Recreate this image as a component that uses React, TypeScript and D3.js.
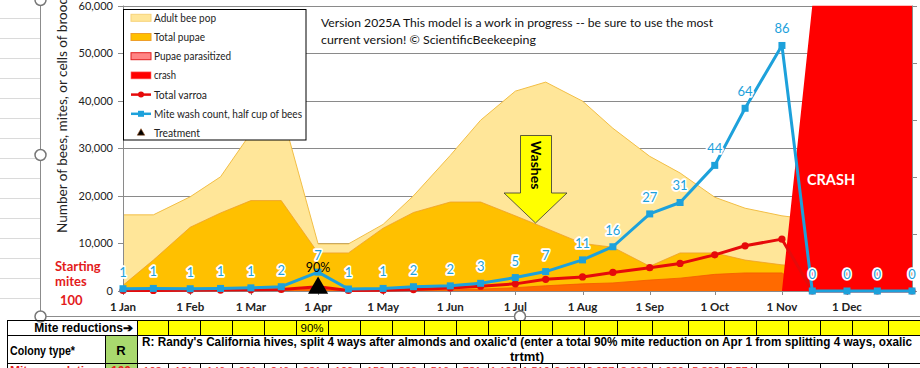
import React, { useEffect, useRef } from 'react';
import * as d3 from 'd3';

// sample dates (1st and 15th of each month, last point Dec 31)
const sampleDates = [
  '2025-01-01', '2025-01-15', '2025-02-01', '2025-02-15', '2025-03-01', '2025-03-15',
  '2025-04-01', '2025-04-15', '2025-05-01', '2025-05-15', '2025-06-01', '2025-06-15',
  '2025-07-01', '2025-07-15', '2025-08-01', '2025-08-15', '2025-09-01', '2025-09-15',
  '2025-10-01', '2025-10-15', '2025-11-01', '2025-11-15', '2025-12-01', '2025-12-15',
  '2025-12-31'
];
const adultBees = [16000, 16000, 19800, 24000, 33200, 38000, 9900, 9900, 14000, 20000, 28500, 35900,
  42000, 43900, 39900, 34200, 28300, 24800, 19700, 17400, 15800, 15000, 15000, 15000, 17500];
const totalPupae = [1200, 6500, 13400, 16400, 19000, 19000, 8000, 8000, 13200, 16500, 18700, 18700,
  15800, 13200, 10000, 9200, 5200, 8000, 8000, 6500, 5500, 5000, 4000, 3000, 3000];
const pupaeParasitized = [30, 40, 60, 80, 110, 150, 400, 30, 60, 100, 250, 400,
  700, 1100, 1500, 1700, 2300, 2700, 3500, 3800, 3800, 0, 0, 0, 0];
const crash = [0, 0, 0, 0, 0, 0, 0, 0, 0, 0, 0, 0, 0, 0, 0, 0, 0, 0, 0, 0, 0, 60000, 60000, 60000, 60000];
const totalVarroa = [100, 120, 150, 190, 250, 330, 900, 100, 150, 300, 650, 1000,
  1500, 2450, 2950, 3900, 4900, 5800, 7600, 9500, 10900, 0, 0, 0, 0];
const washCount = [0.8, 0.9, 0.8, 0.9, 1.1, 1.5, 6.6, 0.7, 0.9, 1.5, 1.8, 2.7,
  4.7, 6.8, 10.9, 15.5, 27, 31, 44, 64, 86, 0, 0, 0, 0];

const treatmentDate = '2025-04-01';
const treatmentLabel = '90%';

const yTicks = [0, 10000, 20000, 30000, 40000, 50000, 60000];
const y2Ticks = [0, 20, 40, 60, 80, 100];
const monthTicks = ['2025-01-01', '2025-02-01', '2025-03-01', '2025-04-01', '2025-05-01', '2025-06-01',
  '2025-07-01', '2025-08-01', '2025-09-01', '2025-10-01', '2025-11-01', '2025-12-01'];

const legendNames = ['Adult bee pop', 'Total pupae', 'Pupae parasitized', 'crash', 'Total varroa',
  'Mite wash count, half cup of bees', 'Treatment'];

const versionLines = [
  'Version 2025A This model is a work in progress -- be sure to use the most',
  'current version!  \u00A9 ScientificBeekeeping'
];

// spreadsheet rows under the chart
const miteReductions = ['', '', '', '', '', '90%', '', '', '', '', '', '', '', '', '', '', '', '', '', '', '', '', '', ''];
const colonyType = 'R';
const colonyText = [
  "R: Randy's California hives, split 4 ways after almonds and oxalic'd (enter a total 90% mite reduction on Apr 1 from splitting 4 ways, oxalic",
  'trtmt)'
];
const startingMites = 100;
const mitePopRow = ['103', '131', '146', '201', '246', '331', '100', '150', '300', '516', '781', '1,139',
  '1,510', '2,452', '2,957', '3,903', '4,930', '5,802', '7,574', '', '', '', '', ''];

const FONT = 'Lato, "Noto Sans", sans-serif';
const ARIAL = '"Liberation Sans", Arial, sans-serif';

export default function App() {
  const ref = useRef<SVGSVGElement>(null);

  useEffect(() => {
    const svg = d3.select(ref.current);
    svg.selectAll('*').remove();

    const W = 920, H = 368;
    const plot = { left: 123, right: 912, top: 5.5, bottom: 291 };

    const parse = d3.timeParse('%Y-%m-%d');
    const dates = sampleDates.map(d => parse(d) as Date);

    const x = d3.scaleTime()
      .domain([dates[0], dates[dates.length - 1]])
      .range([plot.left, plot.right]);
    const y = d3.scaleLinear().domain([0, 60000]).range([plot.bottom, plot.top]);
    const y2 = d3.scaleLinear().domain([0, 100]).range([plot.bottom, plot.top]);

    svg.append('rect').attr('width', W).attr('height', H).attr('fill', '#fff');

    // spreadsheet gridlines left of the chart object
    const sheet = svg.append('g');
    d3.range(18, 317, 20).forEach(yy => {
      sheet.append('line').attr('x1', 0).attr('x2', 40).attr('y1', yy + 0.5).attr('y2', yy + 0.5)
        .attr('stroke', '#dadada');
    });

    // chart object background
    svg.append('rect').attr('x', 40).attr('y', -2).attr('width', W - 40).attr('height', 319).attr('fill', '#fff');

    const defs = svg.append('defs');
    defs.append('clipPath').attr('id', 'plotclip').append('rect')
      .attr('x', plot.left).attr('y', plot.top)
      .attr('width', plot.right - plot.left).attr('height', plot.bottom - plot.top);

    // gridlines
    svg.append('g').selectAll('line').data(yTicks.slice(1)).join('line')
      .attr('x1', plot.left).attr('x2', plot.right)
      .attr('y1', d => Math.round(y(d)) + 0.5).attr('y2', d => Math.round(y(d)) + 0.5)
      .attr('stroke', '#8a8a8a').attr('stroke-width', 1);

    const g = svg.append('g').attr('clip-path', 'url(#plotclip)');

    const area = (vals: number[]) => d3.area<number>()
      .x((_, i) => x(dates[i]))
      .y0(y(0))
      .y1(d => y(d))(vals);
    const topLine = (vals: number[]) => d3.line<number>()
      .x((_, i) => x(dates[i]))
      .y(d => y(d))(vals);

    g.append('path').attr('d', area(adultBees)).attr('fill', '#FFE699');
    g.append('path').attr('d', topLine(adultBees)).attr('fill', 'none').attr('stroke', '#F2BE45').attr('stroke-width', 1);
    g.append('path').attr('d', area(totalPupae)).attr('fill', '#FFC000');
    g.append('path').attr('d', topLine(totalPupae)).attr('fill', 'none').attr('stroke', '#EE9F2A').attr('stroke-width', 0.8);
    g.append('path').attr('d', area(pupaeParasitized)).attr('fill', '#FF6A00');
    g.append('path').attr('d', topLine(pupaeParasitized)).attr('fill', 'none').attr('stroke', '#F25A00').attr('stroke-width', 0.8);
    g.append('path').attr('d', area(crash)).attr('fill', '#FF0000');

    // axes lines and tick marks
    const axisColor = '#8a8a8a';
    svg.append('line').attr('x1', plot.left + 0.5).attr('x2', plot.left + 0.5)
      .attr('y1', plot.top).attr('y2', plot.bottom).attr('stroke', axisColor);
    svg.append('line').attr('x1', plot.right + 0.5).attr('x2', plot.right + 0.5)
      .attr('y1', plot.top).attr('y2', plot.bottom).attr('stroke', axisColor);
    svg.append('g').selectAll('line').data(yTicks).join('line')
      .attr('x1', plot.left - 5).attr('x2', plot.left)
      .attr('y1', d => Math.round(y(d)) + 0.5).attr('y2', d => Math.round(y(d)) + 0.5)
      .attr('stroke', axisColor);
    svg.append('g').selectAll('line').data(y2Ticks).join('line')
      .attr('x1', plot.right).attr('x2', plot.right + 5)
      .attr('y1', d => Math.round(y2(d)) + 0.5).attr('y2', d => Math.round(y2(d)) + 0.5)
      .attr('stroke', axisColor);

    const xAxisG = svg.append('g').attr('transform', `translate(0, ${plot.bottom})`);
    xAxisG.append('line').attr('x1', plot.left).attr('x2', plot.right).attr('y1', 0.5).attr('y2', 0.5)
      .attr('stroke', axisColor);
    xAxisG.selectAll('line.tk').data(monthTicks).join('line').attr('class', 'tk')
      .attr('x1', d => Math.round(x(parse(d) as Date)) + 0.5).attr('x2', d => Math.round(x(parse(d) as Date)) + 0.5)
      .attr('y1', 0).attr('y2', 4).attr('stroke', axisColor);
    const fmt = d3.timeFormat('%-d %b');
    xAxisG.selectAll('text').data(monthTicks).join('text')
      .attr('x', d => x(parse(d) as Date)).attr('y', 20)
      .attr('text-anchor', 'middle')
      .attr('font-family', FONT).attr('font-weight', 700).attr('font-size', 11.5).attr('fill', '#222')
      .text(d => fmt(parse(d) as Date));

    // y tick labels
    svg.append('g').selectAll('text').data(yTicks).join('text')
      .attr('x', 113).attr('y', d => y(d) + 4)
      .attr('text-anchor', 'end')
      .attr('font-family', FONT).attr('font-size', 11).attr('fill', '#222')
      .text(d => d3.format(',')(d));

    // y axis title
    svg.append('text')
      .attr('transform', 'translate(67, 233) rotate(-90)')
      .attr('font-family', FONT).attr('font-size', 13.5).attr('fill', '#222')
      .attr('textLength', 236).attr('lengthAdjust', 'spacingAndGlyphs')
      .text('Number of bees, mites, or cells of brood');

    // total varroa line
    const varroaColor = '#E60A0A';
    const vLine = d3.line<number>().x((_, i) => x(dates[i])).y(d => y(d));
    svg.append('path').attr('d', vLine(totalVarroa)).attr('fill', 'none')
      .attr('stroke', varroaColor).attr('stroke-width', 3).attr('stroke-linejoin', 'round');
    svg.append('g').selectAll('circle').data(totalVarroa).join('circle')
      .attr('cx', (_, i) => x(dates[i])).attr('cy', d => y(d)).attr('r', 3.6)
      .attr('fill', varroaColor);

    // mite wash line
    const washColor = '#1DA1DB';
    const wLine = d3.line<number>().x((_, i) => x(dates[i])).y(d => y2(d));
    svg.append('path').attr('d', wLine(washCount)).attr('fill', 'none')
      .attr('stroke', washColor).attr('stroke-width', 3).attr('stroke-linejoin', 'round');
    svg.append('g').selectAll('rect').data(washCount).join('rect')
      .attr('x', (_, i) => x(dates[i]) - 3.5).attr('y', d => y2(d) - 3.5)
      .attr('width', 7).attr('height', 7).attr('fill', washColor);

    // treatment marker
    const tx = x(parse(treatmentDate) as Date);
    svg.append('path')
      .attr('d', d3.symbol(d3.symbolTriangle, 175)())
      .attr('transform', `translate(${tx}, ${y(0) - 3})`)
      .attr('fill', '#000');

    // wash count labels
    svg.append('g').selectAll('text').data(washCount).join('text')
      .attr('x', (_, i) => x(dates[i])).attr('y', d => y2(d) - 12)
      .attr('text-anchor', 'middle')
      .attr('font-family', FONT).attr('font-size', 13).attr('fill', washColor)
      .attr('stroke', '#fff').attr('stroke-width', 3.5).attr('stroke-linejoin', 'round')
      .attr('paint-order', 'stroke')
      .text(d => String(Math.round(d)));

    svg.append('text').attr('x', tx).attr('y', 272).attr('text-anchor', 'middle')
      .attr('font-family', FONT).attr('font-size', 12.5).attr('fill', '#000')
      .text(treatmentLabel);

    // CRASH label
    svg.append('text').attr('x', 831).attr('y', 185).attr('text-anchor', 'middle')
      .attr('font-family', FONT).attr('font-weight', 700).attr('font-size', 14.5).attr('fill', '#fff')
      .text('CRASH');

    // Washes arrow
    const arrow = svg.append('g');
    arrow.append('path')
      .attr('d', 'M520.5,135.5 L551.5,135.5 L551.5,193 L567,193 L535.5,223 L504,193 L520.5,193 Z')
      .attr('fill', '#FFFF00').attr('stroke', '#333').attr('stroke-width', 0.8);
    arrow.append('text').attr('transform', 'translate(531, 165) rotate(90)')
      .attr('text-anchor', 'middle')
      .attr('font-family', FONT).attr('font-weight', 700).attr('font-size', 14).attr('fill', '#000')
      .text('Washes');

    // legend
    const legendWidths = [62, 51, 77, 22, 53, 148, 46];
    const lg = svg.append('g');
    lg.append('rect').attr('x', 123.5).attr('y', 9.5).attr('width', 182.5).attr('height', 130.5)
      .attr('fill', '#fff').attr('stroke', '#000').attr('stroke-width', 1);
    legendNames.forEach((name, i) => {
      const cy = 17.8 + i * 19.2;
      const sx = 131, sw = 20;
      if (i === 0) {
        lg.append('rect').attr('x', sx).attr('y', cy - 3.5).attr('width', sw).attr('height', 7)
          .attr('fill', '#FFE699').attr('stroke', '#F7D27A');
      } else if (i === 1) {
        lg.append('rect').attr('x', sx).attr('y', cy - 3.5).attr('width', sw).attr('height', 7)
          .attr('fill', '#FFC000').attr('stroke', '#EE9F2A');
      } else if (i === 2) {
        lg.append('rect').attr('x', sx).attr('y', cy - 3.5).attr('width', sw).attr('height', 7)
          .attr('fill', '#FF8585').attr('stroke', '#E02020');
      } else if (i === 3) {
        lg.append('rect').attr('x', sx).attr('y', cy - 3.5).attr('width', sw).attr('height', 7)
          .attr('fill', '#FF0000').attr('stroke', '#FF6A6A').attr('stroke-width', 0.6);
      } else if (i === 4) {
        lg.append('line').attr('x1', sx).attr('x2', sx + sw).attr('y1', cy).attr('y2', cy)
          .attr('stroke', varroaColor).attr('stroke-width', 2.5);
        lg.append('circle').attr('cx', sx + sw / 2).attr('cy', cy).attr('r', 3).attr('fill', varroaColor);
      } else if (i === 5) {
        lg.append('line').attr('x1', sx).attr('x2', sx + sw).attr('y1', cy).attr('y2', cy)
          .attr('stroke', washColor).attr('stroke-width', 2.5);
        lg.append('rect').attr('x', sx + sw / 2 - 3).attr('y', cy - 3).attr('width', 6).attr('height', 6)
          .attr('fill', washColor);
      } else {
        lg.append('path').attr('d', d3.symbol(d3.symbolTriangle, 24)())
          .attr('transform', `translate(${sx + sw / 2}, ${cy})`)
          .attr('fill', '#000').attr('stroke', '#8B4513').attr('stroke-width', 0.6);
      }
      lg.append('text').attr('x', 154).attr('y', cy + 4)
        .attr('font-family', FONT).attr('font-size', 11.5).attr('fill', '#222')
        .attr('textLength', legendWidths[i]).attr('lengthAdjust', 'spacingAndGlyphs')
        .text(name);
    });

    // version note
    svg.append('text').attr('x', 321).attr('y', 27)
      .attr('font-family', FONT).attr('font-size', 12).attr('fill', '#111')
      .attr('textLength', 392).attr('lengthAdjust', 'spacingAndGlyphs')
      .text(versionLines[0]);
    svg.append('text').attr('x', 321).attr('y', 44)
      .attr('font-family', FONT).attr('font-size', 12).attr('fill', '#111')
      .attr('textLength', 215).attr('lengthAdjust', 'spacingAndGlyphs')
      .text(versionLines[1]);

    // starting mites
    const red = '#E31B1B';
    const sm = svg.append('g').attr('font-family', FONT).attr('font-weight', 700).attr('font-size', 13).attr('fill', red);
    sm.append('text').attr('x', 55).attr('y', 270.5).text('Starting');
    sm.append('text').attr('x', 55).attr('y', 285.5).text('mites');
    sm.append('text').attr('x', 60).attr('y', 305).text(String(startingMites));

    // chart frame and selection handles
    const frame = '#8c8c8c';
    svg.append('line').attr('x1', 40.5).attr('x2', 40.5).attr('y1', 0).attr('y2', 317).attr('stroke', frame);
    svg.append('line').attr('x1', 40).attr('x2', W).attr('y1', 316.5).attr('y2', 316.5).attr('stroke', frame);
    [[40.5, 0], [40.5, 155], [40.5, 316.5], [520, 316.5]].forEach(([hx, hy]) => {
      svg.append('circle').attr('cx', hx).attr('cy', hy).attr('r', 5.5)
        .attr('fill', '#fff').attr('stroke', '#777').attr('stroke-width', 1.5);
    });

    // table
    const colWidths = [31, 32, 32, 32, 32, 32, 32, 32, 32, 32, 32, 32, 32, 32, 33, 35, 36, 36, 32, 32, 32, 32, 36, 32];
    const edges = [137];
    colWidths.forEach(w => edges.push(edges[edges.length - 1] + w));
    const t = svg.append('g');
    const r1 = 320, r2 = 335, r3 = 363;

    t.append('rect').attr('x', 137).attr('y', r1).attr('width', W - 137).attr('height', r2 - r1).attr('fill', '#FFFF00');
    t.append('rect').attr('x', 105).attr('y', r2).attr('width', 32).attr('height', H - r2).attr('fill', '#A9D96E');

    const hl = (yy: number, x1: number, x2: number) =>
      t.append('line').attr('x1', x1).attr('x2', x2).attr('y1', yy + 0.5).attr('y2', yy + 0.5).attr('stroke', '#000');
    const vl = (xx: number, y1: number, y2v: number) =>
      t.append('line').attr('x1', xx + 0.5).attr('x2', xx + 0.5).attr('y1', y1).attr('y2', y2v).attr('stroke', '#000');
    hl(r1, 7, W); hl(r2, 7, W); hl(r3, 7, W);
    vl(7, r1, H);
    vl(137, r1, H);
    vl(105, r2, H);
    edges.slice(1).forEach(e => { vl(e, r1, r2); vl(e, r3, H); });

    t.append('text').attr('x', 133).attr('y', 332).attr('text-anchor', 'end')
      .attr('font-family', ARIAL).attr('font-weight', 700).attr('font-size', 12).attr('fill', '#000')
      .text('Mite reductions\u2794');
    miteReductions.forEach((v, i) => {
      if (!v) return;
      t.append('text').attr('x', (edges[i] + edges[i + 1]) / 2).attr('y', 332).attr('text-anchor', 'middle')
        .attr('font-family', ARIAL).attr('font-size', 11.5).attr('fill', '#000').text(v);
    });

    t.append('text').attr('x', 10).attr('y', 355)
      .attr('font-family', ARIAL).attr('font-weight', 700).attr('font-size', 12).attr('fill', '#000')
      .attr('textLength', 65).attr('lengthAdjust', 'spacingAndGlyphs')
      .text('Colony type*');
    t.append('text').attr('x', 121).attr('y', 355).attr('text-anchor', 'middle')
      .attr('font-family', ARIAL).attr('font-weight', 700).attr('font-size', 13).attr('fill', '#000')
      .text(colonyType);
    t.append('text').attr('x', 527).attr('y', 346).attr('text-anchor', 'middle')
      .attr('font-family', ARIAL).attr('font-weight', 700).attr('font-size', 13).attr('fill', '#000')
      .attr('textLength', 770).attr('lengthAdjust', 'spacingAndGlyphs')
      .text(colonyText[0]);
    t.append('text').attr('x', 527).attr('y', 360.5).attr('text-anchor', 'middle')
      .attr('font-family', ARIAL).attr('font-weight', 700).attr('font-size', 13).attr('fill', '#000')
      .text(colonyText[1]);

    t.append('text').attr('x', 10).attr('y', 375)
      .attr('font-family', ARIAL).attr('font-weight', 700).attr('font-size', 12).attr('fill', red)
      .text('Mite population');
    t.append('text').attr('x', 121).attr('y', 375).attr('text-anchor', 'middle')
      .attr('font-family', ARIAL).attr('font-weight', 700).attr('font-size', 12).attr('fill', red)
      .text(String(startingMites));
    mitePopRow.forEach((v, i) => {
      if (!v) return;
      t.append('text').attr('x', (edges[i] + edges[i + 1]) / 2).attr('y', 375).attr('text-anchor', 'middle')
        .attr('font-family', ARIAL).attr('font-size', 11).attr('fill', red).text(v);
    });
  }, []);

  return (
    <svg ref={ref} width={920} height={368}
      style={{ position: 'absolute', left: 0, top: 0, display: 'block' }} />
  );
}
